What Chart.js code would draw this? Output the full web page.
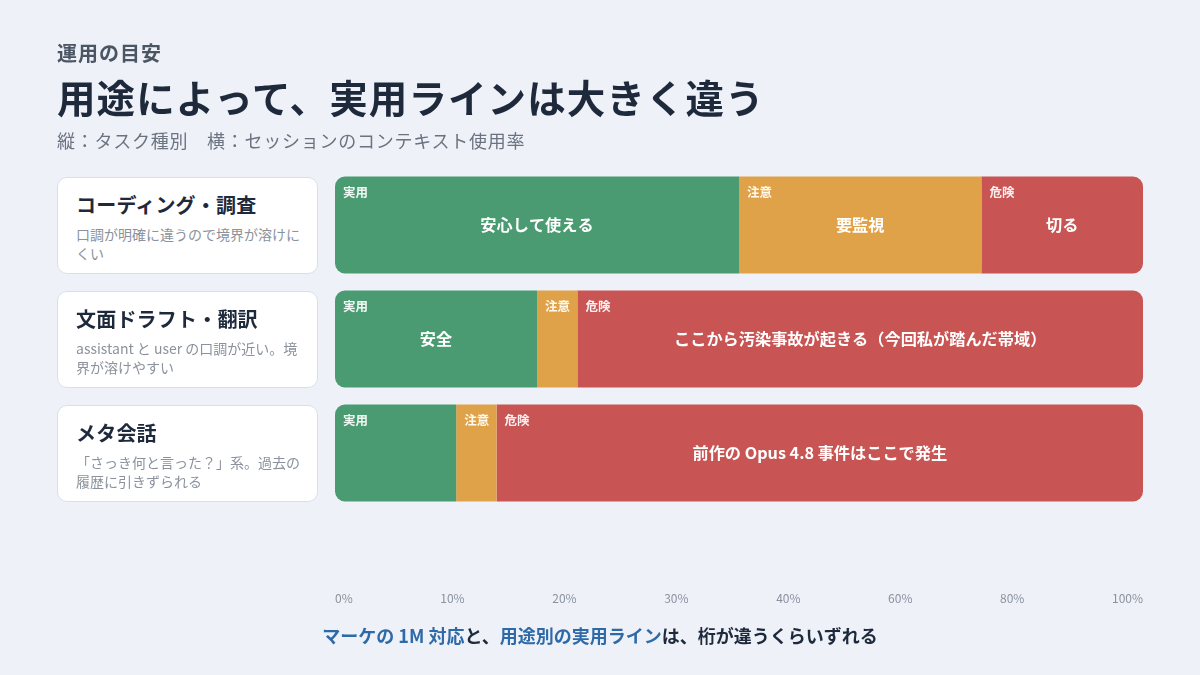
<!DOCTYPE html>
<html lang="ja">
<head>
<meta charset="utf-8">
<script src="https://cdn.jsdelivr.net/npm/chart.js@4.4.1/dist/chart.umd.min.js"></script>
<style>
  html, body { margin: 0; padding: 0; }
  body {
    width: 1200px; height: 675px; overflow: hidden; position: relative;
    background: #eef2f8;
    font-family: "Noto Sans CJK JP", "Noto Sans", sans-serif;
  }
  #chart { position: absolute; left: 0; top: 0; }
  .over { position: absolute; left: 57px; margin: 0; white-space: nowrap; }
  #kicker { top: 42px; font-size: 20px; line-height: 22px; font-weight: 700; color: #4b5563; letter-spacing: 1px; }
  #title { top: 73px; font-size: 38.5px; line-height: 46px; font-weight: 700; color: #1e293b; letter-spacing: 1.1px; }
  #sub { top: 129px; font-size: 18px; line-height: 22px; color: #6b7280; letter-spacing: 0.75px; }
  .card {
    position: absolute; left: 57px; width: 261px; height: 97px; box-sizing: border-box;
    background: #ffffff; border: 1px solid #d8dfe9; border-radius: 10px;
    padding: 14px 12px 0 18px;
  }
  .card h3 { margin: 0; font-size: 20px; line-height: 26px; font-weight: 700; color: #1e293b; letter-spacing: 0.2px; }
  .card p { margin: 7px 0 0 0; font-size: 14px; line-height: 18.5px; color: #8b929c; white-space: pre-line; }
  #foot {
    position: absolute; left: 0; width: 1200px; top: 623px; text-align: center;
    font-size: 18px; line-height: 24px; font-weight: 700; color: #1e293b;
  }
  #foot .hl { color: #2f6aa8; }
</style>
</head>
<body>
<canvas id="chart" width="1200" height="675"></canvas>
<div class="over" id="kicker">運用の目安</div>
<div class="over" id="title">用途によって、実用ラインは大きく違う</div>
<div class="over" id="sub">縦：タスク種別　横：セッションのコンテキスト使用率</div>
<div id="cards"></div>
<div id="foot"><span class="hl">マーケの 1M 対応</span>と、<span class="hl">用途別の実用ライン</span>は、桁が違うくらいずれる</div>

<script>
const tasks = ["コーディング・調査", "文面ドラフト・翻訳", "メタ会話"];
const taskNotes = [
  "口調が明確に違うので境界が溶けに\nくい",
  "assistant と user の口調が近い。境\n界が溶けやすい",
  "「さっき何と言った？」系。過去の\n履歴に引きずられる",
];
const zones = ["実用", "注意", "危険"];
const practical = [50, 25, 15];
const caution = [30, 5, 5];
const danger = [20, 70, 80];
const practicalText = ["安心して使える", "安全", ""];
const cautionText = ["要監視", "", ""];
const dangerText = ["切る", "ここから汚染事故が起きる（今回私が踏んだ帯域）", "前作の Opus 4.8 事件はここで発生"];
const tickLabels = ["0%", "10%", "20%", "30%", "40%", "60%", "80%", "100%"];

// left side cards
const cardsEl = document.getElementById("cards");
tasks.forEach(function (t, i) {
  const d = document.createElement("div");
  d.className = "card";
  d.style.top = (177 + i * 114) + "px";
  const h = document.createElement("h3");
  h.textContent = t;
  const p = document.createElement("p");
  p.textContent = taskNotes[i];
  d.appendChild(h);
  d.appendChild(p);
  cardsEl.appendChild(d);
});

const FONT = '"Noto Sans CJK JP", "Noto Sans", sans-serif';
const segmentText = [practicalText, cautionText, dangerText];

// zone name at top-left, main text in the middle of each segment
const segmentLabels = {
  id: "segmentLabels",
  afterDatasetsDraw(chart) {
    const ctx = chart.ctx;
    ctx.save();
    chart.data.datasets.forEach(function (ds, i) {
      const meta = chart.getDatasetMeta(i);
      meta.data.forEach(function (bar, j) {
        const left = Math.min(bar.base, bar.x);
        const right = Math.max(bar.base, bar.x);
        const top = bar.y - bar.height / 2;
        ctx.fillStyle = "rgba(255,255,255,0.92)";
        ctx.font = "700 12.5px " + FONT;
        ctx.textAlign = "left";
        ctx.textBaseline = "middle";
        ctx.fillText(ds.label, left + 8, top + 15.5);
        const txt = segmentText[i][j];
        if (txt) {
          ctx.fillStyle = "#ffffff";
          ctx.font = "700 16.2px " + FONT;
          ctx.textAlign = "center";
          ctx.fillText(txt, (left + right) / 2, bar.y);
        }
      });
    });
    ctx.restore();
  },
};

const ctx = document.getElementById("chart").getContext("2d");
const chart = new Chart(ctx, {
  type: "bar",
  data: {
    labels: tasks,
    datasets: [
      {
        label: zones[0],
        data: practical,
        backgroundColor: "#4a9b71",
        borderRadius: { topLeft: 10, bottomLeft: 10 },
      },
      {
        label: zones[1],
        data: caution,
        backgroundColor: "#e0a249",
        borderRadius: 0,
      },
      {
        label: zones[2],
        data: danger,
        backgroundColor: "#c85453",
        borderRadius: { topRight: 10, bottomRight: 10 },
      },
    ],
  },
  options: {
    indexAxis: "y",
    responsive: false,
    animation: false,
    layout: { padding: { left: 335, right: 57, top: 168, bottom: 70 } },
    datasets: {
      bar: {
        borderSkipped: false,
        borderWidth: 0,
        categoryPercentage: 1,
        barPercentage: 0.851,
      },
    },
    plugins: {
      legend: { display: false },
      tooltip: { enabled: false },
    },
    scales: {
      x: { stacked: true, min: 0, max: 100, display: false },
      y: { stacked: true, display: false },
      xt: {
        type: "linear",
        position: "bottom",
        min: 0,
        max: 100,
        grid: { display: false, drawTicks: false },
        border: { display: false },
        // spread the labels like a space-between row
        afterBuildTicks(scale) {
          const w = scale.chart.width - 335 - 57;
          const c = scale.ctx;
          c.save();
          c.font = "12px " + FONT;
          const widths = tickLabels.map(function (t) { return c.measureText(t).width; });
          c.restore();
          const gap = (w - widths.reduce(function (a, b) { return a + b; }, 0)) / (tickLabels.length - 1);
          let pos = 0;
          scale.ticks = widths.map(function (tw) {
            const v = (pos + tw / 2) / w * 100;
            pos += tw + gap;
            return { value: v };
          });
        },
        afterFit(scale) {
          scale.height = 95;
          scale.paddingLeft = 0;
          scale.paddingRight = 0;
        },
        ticks: {
          autoSkip: false,
          maxRotation: 0,
          padding: 81,
          color: "#8a929e",
          font: { family: FONT, size: 12 },
          callback: function (v, i) { return tickLabels[i]; },
        },
      },
    },
  },
  plugins: [segmentLabels],
});
</script>
</body>
</html>
